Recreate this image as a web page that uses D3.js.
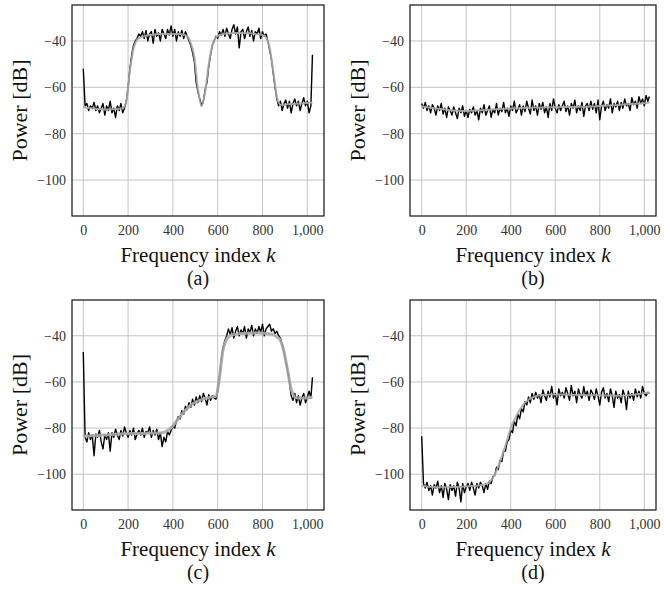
<!DOCTYPE html>
<html><head><meta charset="utf-8">
<script src="https://cdn.jsdelivr.net/npm/d3@7"></script>
<style>
html,body{margin:0;padding:0;background:#fff;}
svg text{font-family:"Liberation Serif","Times New Roman",serif;}
</style></head>
<body><svg id="chart" width="664" height="590"></svg>
<script>
// ---------- data ----------
const panelLabels = ["(a)", "(b)", "(c)", "(d)"];
const xTicks = [0, 200, 400, 600, 800, 1000];
const yTicks = [-40, -60, -80, -100];
const xAxisTitle = "Frequency index ";
const xAxisVar = "k";
const yAxisTitle = "Power [dB]";

// noisy periodogram: k = 0, 8, 16, ..., 1016, then 1023
const noisyK = d3.range(0, 1024, 8).concat([1023]);
// smooth estimate: k = 0, 16, 32, ..., 1008, then 1023
const smoothK = d3.range(0, 1024, 16).concat([1023]);

const noisyA = [
  -52, -68, -67, -70, -68, -69, -66.5, -70, -68, -71, -69, -67, -72, -68, -70, -66,
  -71, -69, -73, -68, -70, -67, -71, -69, -66, -60, -52, -46, -42, -40, -39, -37,
  -38, -36, -39, -35.5, -40, -37, -36, -41, -35, -38, -36.5, -40, -35, -37, -39, -35,
  -37.5, -33.5, -38, -35, -40, -36, -38, -35.5, -39, -36, -38, -40, -42, -45, -49, -58,
  -62, -65, -68, -66, -61, -58, -51, -46, -42, -40, -38, -39, -36, -37.5, -35, -38,
  -34.5, -37, -39, -35, -33, -37, -34, -43, -36, -35, -39, -36, -34, -38, -35.5, -40,
  -36, -37, -34.5, -39, -36, -38, -37, -40, -44, -48, -54, -60, -65, -68, -66, -70,
  -67, -65.5, -69, -66, -71, -67, -65, -68, -66, -70, -67, -64.5, -68, -66, -71, -68,
  -46];
const smoothA = [
  -68.5, -68.8, -69, -69.2, -69.4, -69.5, -69.6, -69.6, -69.5, -69.4, -69.3, -69, -66, -53, -43.5, -39.5,
  -38.5, -38, -37.5, -37.3, -37.2, -37, -37, -37, -37, -37, -37, -37, -37.3, -38, -41, -47,
  -61, -68, -62, -50, -42, -38.5, -37.5, -37, -36.8, -36.7, -36.6, -36.6, -36.6, -36.6, -36.7, -36.8,
  -37, -37.2, -37.5, -38.5, -43, -53, -64, -67.5, -67.5, -67.3, -67.2, -67.1, -67, -67, -66.8, -66.7,
  -66.5];

const noisyB = [
  -67, -69, -66.5, -70, -68, -71, -67.5, -69, -72, -68, -70, -67, -71.5, -69, -73, -68.5,
  -70, -72, -68.5, -71, -73.5, -69, -71, -68, -72.5, -70, -73, -69.5, -71, -68.5, -72, -70,
  -74, -69, -71, -67.5, -72, -70, -68, -73, -69.5, -71, -67, -72, -69, -70.5, -66.5, -71,
  -69, -72.5, -68, -70, -66, -71, -69.5, -67.5, -72, -68, -70.5, -66, -69, -71.5, -65.5, -70,
  -68, -72, -67, -69.5, -66.5, -71, -68.5, -73, -67, -70, -65, -69, -71, -67.5, -70, -68,
  -66, -70.5, -68, -72, -67, -69, -65.5, -71, -68, -70, -66.5, -72.5, -68, -67, -70, -66,
  -69.5, -67, -71, -65.5, -74, -68, -66, -70, -67.5, -69, -65, -71, -67, -68.5, -66, -70,
  -66.5, -69, -65, -68, -67, -70, -64.5, -67.5, -66, -69, -64, -67, -65, -68, -63.5, -66,
  -64];
const smoothB = [
  -68.3, -68.5, -68.7, -68.9, -69.1, -69.3, -69.5, -69.7, -69.9, -70, -70.1, -70.2, -70.2, -70.2, -70.1, -70,
  -70, -69.9, -69.8, -69.7, -69.6, -69.5, -69.4, -69.3, -69.2, -69.1, -69, -69, -68.9, -68.9, -68.8, -68.8,
  -68.7, -68.7, -68.7, -68.6, -68.6, -68.6, -68.6, -68.5, -68.5, -68.5, -68.5, -68.5, -68.4, -68.4, -68.4, -68.3,
  -68.3, -68.2, -68.1, -68, -67.9, -67.8, -67.7, -67.6, -67.5, -67.4, -67.3, -67.2, -67.1, -67, -66.9, -66.8,
  -66.7];

const noisyC = [
  -47, -84, -86, -82, -85, -83, -92, -82.5, -84, -81, -86, -89, -83, -85, -82, -90,
  -82, -84, -80.5, -83, -85, -81, -83.5, -79.5, -82, -84, -81, -83, -80, -85, -82.5, -81,
  -83, -80, -84, -81.5, -82, -79.5, -84, -81, -83, -80.5, -85, -82, -88, -84, -86, -81.5,
  -83, -81, -79, -80, -77, -75, -76, -72.5, -74, -70.5, -72, -69, -71, -67.5, -70, -66.5,
  -69, -66, -68.5, -65, -67, -70, -65.5, -68, -66, -67, -67.5, -64, -58, -50, -45, -42,
  -40, -37, -39.5, -36.5, -41, -38, -36, -40, -37.5, -39, -36, -41, -37, -38.5, -35.5, -40,
  -37, -39, -36, -38.5, -35, -40, -37, -36, -35, -38, -37, -39, -38, -40, -41, -44,
  -47, -51, -55, -60, -66, -68, -65, -69, -66, -70, -67, -65, -69, -66.5, -64, -67,
  -58];
const smoothC = [
  -83.5, -83.5, -83.4, -83.3, -83.2, -83.1, -83, -82.9, -82.8, -82.7, -82.6, -82.5, -82.5, -82.4, -82.4, -82.3,
  -82.3, -82.3, -82.2, -82.2, -82.1, -82.1, -82, -81.5, -80.5, -79, -77, -75, -73, -71.5, -70, -69,
  -68.3, -67.7, -67.2, -66.8, -66.5, -66.2, -58, -46, -41.5, -40, -39.5, -39.2, -39, -39, -38.9, -38.8,
  -38.8, -38.8, -38.9, -39, -39.2, -39.5, -40.5, -42, -47, -55, -63, -66.5, -67, -67, -67, -66.8,
  -66.5];

const noisyD = [
  -83.5, -104, -106, -103.5, -107, -105, -109, -104.5, -106, -103, -108, -105, -110, -104, -106.5, -111,
  -104.5, -107, -105, -109.5, -103.5, -106, -112, -104, -108, -105.5, -104, -107, -103.5, -106, -109, -104,
  -106, -103.5, -105, -108, -104, -106.5, -103, -104, -101, -100.5, -97, -98, -94, -94.5, -90, -90,
  -86, -85, -81, -82, -77, -79, -74, -76, -71.5, -73, -68.5, -70, -66.5, -69, -65, -67.5,
  -64.5, -67, -65.5, -69, -63.5, -66, -68, -64, -66.5, -62, -67, -65, -70, -63, -66, -64.5,
  -67, -62.5, -65, -68, -61.5, -66, -64, -69, -63, -65.5, -67, -62, -66, -64, -68, -63.5,
  -65, -67.5, -63, -66, -70, -64.5, -62.5, -67, -65, -68.5, -63, -66, -71, -64, -67, -65.5,
  -69, -63.5, -66, -72, -64, -67, -65, -68, -63, -66.5, -64, -67, -62, -65, -66, -64.5,
  -65];
const smoothD = [
  -105, -105.2, -105.4, -105.5, -105.6, -105.6, -105.6, -105.6, -105.6, -105.5, -105.5, -105.4, -105.3, -105.2, -105.1, -105,
  -104.9, -104.7, -104.3, -103.5, -101.5, -98.5, -94.5, -90, -85, -80, -76.5, -73.5, -71, -69, -67.7, -66.8,
  -66.2, -65.9, -65.7, -65.6, -65.5, -65.5, -65.5, -65.5, -65.5, -65.6, -65.6, -65.6, -65.7, -65.7, -65.7, -65.8,
  -65.8, -65.8, -65.8, -65.9, -65.9, -65.9, -66, -66, -66, -65.9, -65.8, -65.6, -65.4, -65.2, -65, -64.8,
  -64.7];

const noisySeries = [noisyA, noisyB, noisyC, noisyD];
const smoothSeries = [smoothA, smoothB, smoothC, smoothD];

// ---------- layout ----------
const boxes = [
  {x0: 72, x1: 324, y0: 5, y1: 216, z0: 83.3, z1: 307.3},
  {x0: 410, x1: 656, y0: 5, y1: 216, z0: 421.7, z1: 644.3},
  {x0: 72, x1: 324, y0: 300, y1: 510, z0: 83.3, z1: 307.3},
  {x0: 410, x1: 656, y0: 300, y1: 510, z0: 421.7, z1: 644.3}
];
const yDomain = [-115.5, -24.5];

const svg = d3.select("#chart");

boxes.forEach((b, i) => {
  const pxPerUnit = (b.z1 - b.z0) / 1000;
  const x = d3.scaleLinear()
    .domain([(b.x0 - b.z0) / pxPerUnit, (b.x1 - b.z0) / pxPerUnit])
    .range([b.x0, b.x1]);
  const y = d3.scaleLinear().domain(yDomain).range([b.y1, b.y0]);

  const g = svg.append("g");
  const clipId = "clip" + i;
  svg.append("clipPath").attr("id", clipId).append("rect")
    .attr("x", b.x0).attr("y", b.y0).attr("width", b.x1 - b.x0).attr("height", b.y1 - b.y0);

  // grid
  g.append("g").selectAll("line").data(xTicks).join("line")
    .attr("x1", d => x(d)).attr("x2", d => x(d))
    .attr("y1", b.y0).attr("y2", b.y1)
    .attr("stroke", "#c4c4c4").attr("stroke-width", 1);
  g.append("g").selectAll("line").data(yTicks).join("line")
    .attr("x1", b.x0).attr("x2", b.x1)
    .attr("y1", d => y(d)).attr("y2", d => y(d))
    .attr("stroke", "#c4c4c4").attr("stroke-width", 1);

  // axes
  const xAxis = d3.axisBottom(x).tickValues(xTicks).tickSize(0).tickPadding(0)
    .tickFormat(d => d3.format(",")(d));
  const xg = g.append("g").attr("transform", `translate(0,${b.y1})`).call(xAxis);
  xg.select(".domain").remove();
  xg.selectAll("text").attr("font-size", 14).attr("fill", "#333")
    .attr("font-family", "Liberation Serif").attr("dy", null).attr("y", 19);

  const yAxis = d3.axisLeft(y).tickValues(yTicks).tickSize(0).tickPadding(6)
    .tickFormat(d => "\u2212" + Math.abs(d));
  const yg = g.append("g").attr("transform", `translate(${b.x0},0)`).call(yAxis);
  yg.select(".domain").remove();
  yg.selectAll("text").attr("font-size", 14).attr("fill", "#333")
    .attr("font-family", "Liberation Serif");

  // lines
  const plot = g.append("g").attr("clip-path", `url(#${clipId})`);
  const noisyLine = d3.line().x((d, j) => x(noisyK[j])).y(d => y(d));
  const smoothLine = d3.line().x((d, j) => x(smoothK[j])).y(d => y(d)).curve(d3.curveMonotoneX);
  plot.append("path").datum(noisySeries[i]).attr("d", noisyLine)
    .attr("fill", "none").attr("stroke", "#000").attr("stroke-width", 1.4)
    .attr("stroke-linejoin", "round");
  plot.append("path").datum(smoothSeries[i]).attr("d", smoothLine)
    .attr("fill", "none").attr("stroke", "#a9a9a9").attr("stroke-width", i === 2 ? 3 : 2)
    .attr("stroke-opacity", 0.9);

  // frame
  g.append("rect").attr("x", b.x0).attr("y", b.y0)
    .attr("width", b.x1 - b.x0).attr("height", b.y1 - b.y0)
    .attr("fill", "none").attr("stroke", "#111").attr("stroke-width", 1.2);

  // axis titles
  const cx = (b.x0 + b.x1) / 2;
  const xt = g.append("text").attr("x", cx).attr("y", b.y1 + 46)
    .attr("text-anchor", "middle").attr("font-size", 21).attr("fill", "#111");
  xt.append("tspan").text(xAxisTitle);
  xt.append("tspan").attr("font-style", "italic").text(xAxisVar);

  const cy = (b.y0 + b.y1) / 2;
  const ytx = b.x0 - 45;
  g.append("text").attr("transform", `translate(${ytx},${cy}) rotate(-90)`)
    .attr("text-anchor", "middle").attr("font-size", 22).attr("fill", "#111")
    .text(yAxisTitle);

  g.append("text").attr("x", cx).attr("y", b.y1 + 69)
    .attr("text-anchor", "middle").attr("font-size", 20).attr("fill", "#111")
    .text(panelLabels[i]);
});
</script></body></html>
